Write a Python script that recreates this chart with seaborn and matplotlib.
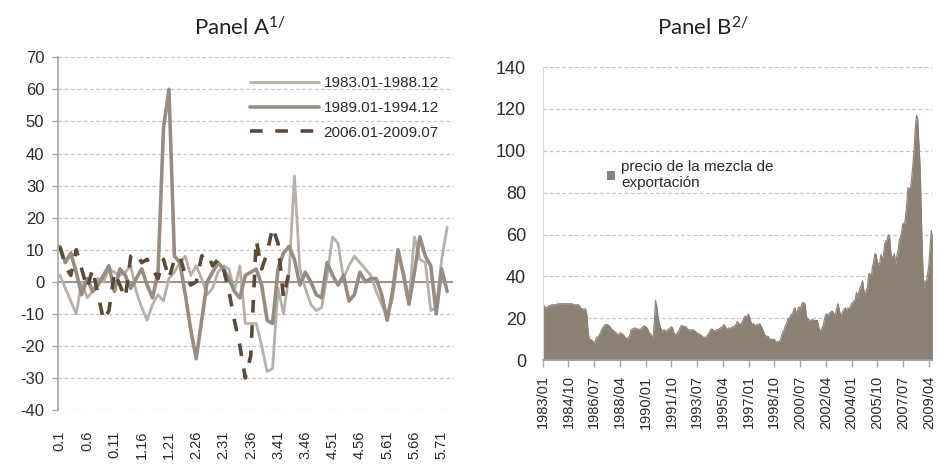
import numpy as np
import pandas as pd
import matplotlib.pyplot as plt
import seaborn as sns

# ---- Panel A: monthly % change, month index t (1..72)
months_a = list(range(1, 73))
tick_pos_a = [1, 6, 11, 16, 21, 26, 31, 36, 41, 46, 51, 56, 61, 66, 71]
tick_labels_a = ["0.1", "0.6", "0.11", "1.16", "1.21", "2.26", "2.31", "2.36",
                 "3.41", "3.46", "4.51", "4.56", "5.61", "5.66", "5.71"]

s1983 = [2, -2, -6, -10, 0, -5, -3, 1, 0, 4, 3, 2,
         3, 5, -3, -8, -12, -7, -4, -6, 1, 3, 6, 8,
         2, 5, 1, -4, -2, 3, 5, 4, -3, 5, -13, -13,
         -13, -20, -28, -27, -2, -10, 2, 33, 4, -2, -7, -9,
         -8, 2, 14, 12, 1, 5, 8, 6, 4, 2, -3, -7,
         -11, -5, 8, 3, -6, 14, 7, 6, -9, -8, 7, 17]
s1989 = [11, 6, 9, 3, -4, 1, -3, -1, 2, 5, -3, 4,
         2, -2, 1, 4, -1, -5, 3, 48, 60, 8, 6, -4,
         -15, -24, -12, 0, 3, 6, 4, 1, -3, -5, 2, 3,
         4, -1, -12, -13, 4, 9, 11, 7, -1, 3, 0, -4,
         -5, 6, 2, -1, 2, -6, -4, 3, 0, 1, 1, -4,
         -12, -3, 10, 2, -7, 3, 14, 8, 5, -10, 4, -3]
s2006 = [11, 5, 2, 10, 4, -2, 4, -4, -12, -9, 3, -1,
         -5, 8, 9, 6, 7, 4, 1, 7, 1, 7, 8, 2,
         -1, 0, 8, 9, 5, 7, 4, -3, -12, -20, -30, -23,
         13, 4, 9, 17, 12, -5, 3]

# ---- Panel B: monthly price of the Mexican export mix, 1983/01 - 2009/07
p1983 = [28, 26, 25, 25, 25.5, 26, 26, 26.5, 26.5, 26.5, 26.5, 26.5]
p1984 = [27, 27, 27, 27, 27, 27, 27, 27, 27, 27, 27, 27]
p1985 = [27, 26.5, 26.5, 26.5, 26.5, 26.5, 26, 25, 24.5, 24.5, 24.5, 24.5]
p1986 = [22, 14, 10, 10, 9.5, 9, 8, 9.5, 11, 11, 12, 13]
p1987 = [14.5, 15.5, 16.5, 17, 17, 17, 16.5, 16, 15, 14.5, 14, 13.5]
p1988 = [13, 12, 12.5, 13, 13, 12.5, 12, 11, 10.5, 10, 11, 12]
p1989 = [14.5, 15, 15, 15.5, 15, 15, 15, 14.5, 15, 15.5, 16, 16.5]
p1990 = [16, 15.5, 14.5, 13, 12.5, 11.5, 11, 18, 28.5, 26, 21, 18]
p1991 = [16, 14, 14, 14.5, 14, 14, 14.5, 15, 15.5, 16, 15.5, 13]
p1992 = [12.5, 12.5, 13, 14, 15.5, 16.5, 16.5, 16, 16, 16, 15, 14.5]
p1993 = [14.5, 14.5, 14.5, 14.5, 14, 13.5, 13, 12.5, 12.5, 12, 11.5, 11]
p1994 = [11, 11, 11.5, 12.5, 13.5, 14.5, 15, 14.5, 14, 14, 14.5, 14.5]
p1995 = [15, 15.5, 15.5, 16.5, 17, 16, 15, 15, 15.5, 15, 15.5, 16]
p1996 = [16, 16.5, 17.5, 18.5, 17.5, 17, 17.5, 18.5, 20, 21, 20.5, 21.5]
p1997 = [22, 20, 18, 17, 17.5, 16.5, 16.5, 17, 17, 17.5, 16.5, 15.5]
p1998 = [14, 12.5, 11.5, 11.5, 11.5, 10, 10, 10, 10, 10, 9, 8.5]
p1999 = [9, 8.5, 10, 12, 13.5, 14.5, 16.5, 17.5, 20, 19.5, 21, 22]
p2000 = [22.5, 24.5, 25, 21.5, 24, 25.5, 24.5, 26, 27.5, 27.5, 27, 22]
p2001 = [19, 19.5, 19, 19, 19.5, 19, 19, 19, 19, 16.5, 14, 14.5]
p2002 = [15.5, 17, 20, 22, 22, 21.5, 22.5, 23, 23.5, 23, 21.5, 22.5]
p2003 = [25, 27, 24, 21.5, 22, 23.5, 24.5, 25, 23.5, 25, 24.5, 25.5]
p2004 = [27, 27.5, 28.5, 29, 32.5, 30, 32.5, 34.5, 36, 38, 33.5, 30.5]
p2005 = [33.5, 35, 41, 41.5, 39, 44.5, 47, 51, 50.5, 47, 45.5, 46.5]
p2006 = [50.5, 48.5, 50, 55.5, 57, 57, 60, 59, 52, 49, 49.5, 51]
p2007 = [45.5, 50, 52.5, 57.5, 59, 62, 65.5, 63.5, 68.5, 74, 82.5, 82]
p2008 = [82, 86.5, 93, 100, 111, 117, 115, 103, 92, 68, 48, 34]
p2009 = [38, 37, 41, 45, 53.5, 62, 60]

price = (p1983 + p1984 + p1985 + p1986 + p1987 + p1988 + p1989 + p1990 + p1991
         + p1992 + p1993 + p1994 + p1995 + p1996 + p1997 + p1998 + p1999 + p2000
         + p2001 + p2002 + p2003 + p2004 + p2005 + p2006 + p2007 + p2008 + p2009)
dates_b = [f"{y}/{m:02d}" for y in range(1983, 2010) for m in range(1, 13)][:len(price)]
df_b = pd.DataFrame({"idx": np.arange(len(price)), "fecha": dates_b, "precio": price})

sns.set_style("white")
plt.rcParams['font.family'] = ['Liberation Sans', 'DejaVu Sans']
plt.rcParams['mathtext.default'] = 'regular'
plt.rcParams['axes.unicode_minus'] = False

txt = '#2e2a26'
grid_c = '#c8c4bf'
fig = plt.figure(figsize=(9.39, 4.66), dpi=100)

# ---------------- Panel A
axA = fig.add_axes([0.062, 0.12, 0.42, 0.757])
for v in range(-40, 80, 10):
    axA.axhline(v, color=grid_c, lw=0.9, ls=(0, (3, 2)), zorder=0)
axA.axhline(0, color='#9a928a', lw=1.4, zorder=1)
sns.lineplot(x=months_a, y=s1983, ax=axA, color='#b6b0a9', lw=2.0, label='1983.01-1988.12')
sns.lineplot(x=months_a, y=s1989, ax=axA, color='#968c82', lw=2.6, label='1989.01-1994.12')
sns.lineplot(x=months_a[:len(s2006)], y=s2006, ax=axA, color='#5c4a36', lw=2.6,
             ls=(0, (3.5, 3.5)), label='2006.01-2009.07')
axA.set_xlim(0.7, 73)
axA.set_ylim(-40, 70)
axA.set_yticks(range(-40, 80, 10))
axA.set_xticks(tick_pos_a)
axA.set_xticklabels(tick_labels_a, rotation=90)
axA.tick_params(axis='x', length=0, pad=15, labelsize=10.5, labelcolor=txt)
axA.tick_params(axis='y', length=4, width=1, color='#aaa49d', direction='out',
                pad=6, labelsize=12, labelcolor=txt, left=True)
for s in ['top', 'right', 'bottom']:
    axA.spines[s].set_visible(False)
axA.spines['left'].set_color('#aaa49d')
axA.spines['left'].set_linewidth(1.2)
leg = axA.legend(loc='upper right', frameon=False, fontsize=11, handlelength=4.5,
                 handletextpad=0.3, labelspacing=0.7, bbox_to_anchor=(1.0, 0.985))
for t in leg.get_texts():
    t.set_color(txt)

# ---------------- Panel B
axB = fig.add_axes([0.578, 0.227, 0.415, 0.629])
for v in range(20, 160, 20):
    axB.axhline(v, color=grid_c, lw=0.9, ls=(0, (3, 2)), zorder=0)
sns.lineplot(data=df_b, x='idx', y='precio', ax=axB, color='#8a8074', lw=0.8)
axB.fill_between(df_b['idx'], df_b['precio'], color='#8a8074', lw=0,
                 label='precio de la mezcla de\nexportación')
axB.set_xlim(0, len(price) - 1)
axB.set_ylim(0, 140)
axB.set_yticks(range(0, 160, 20))
tick_pos_b = list(range(0, len(price), 21))
axB.set_xticks(tick_pos_b)
axB.set_xticklabels([dates_b[i] for i in tick_pos_b], rotation=90)
axB.set_xlabel('')
axB.set_ylabel('')
axB.tick_params(axis='x', length=5, width=1, color='#aaa49d', direction='out',
                pad=6, labelsize=10.5, labelcolor=txt, bottom=True)
axB.tick_params(axis='y', length=0, pad=12, labelsize=13, labelcolor=txt)
for s in ['top', 'right']:
    axB.spines[s].set_visible(False)
axB.spines['left'].set_color('#dcd8d3')
axB.spines['bottom'].set_color('#aaa49d')
axB.spines['bottom'].set_linewidth(1.2)
handles, labels = axB.get_legend_handles_labels()
legB = axB.legend(handles[-1:], labels[-1:], loc='upper left', frameon=False,
                  fontsize=11, handlelength=0.5, handleheight=0.5, handletextpad=0.4,
                  bbox_to_anchor=(0.13, 0.73))
for t in legB.get_texts():
    t.set_color(txt)

fig.text(0.256, 0.94, 'Panel A$^{1/}$', ha='center', va='center', fontsize=16,
         family='Lato', color='#222')
fig.text(0.749, 0.94, 'Panel B$^{2/}$', ha='center', va='center', fontsize=16,
         family='Lato', color='#222')

fig.savefig('out.png', dpi=100)
